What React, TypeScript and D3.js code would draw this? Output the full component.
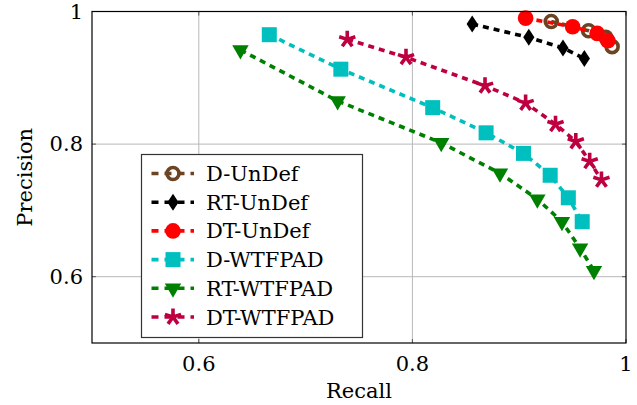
import * as d3 from 'd3'

// recall / precision pairs
const seriesNames = ['D-UnDef', 'RT-UnDef', 'DT-UnDef', 'D-WTFPAD', 'RT-WTFPAD', 'DT-WTFPAD']

const dUnDefRecall = [0.930, 0.965, 0.981, 0.987]
const dUnDefPrecision = [0.985, 0.971, 0.961, 0.947]

const rtUnDefRecall = [0.856, 0.909, 0.941, 0.961]
const rtUnDefPrecision = [0.981, 0.961, 0.945, 0.929]

const dtUnDefRecall = [0.906, 0.950, 0.973, 0.983]
const dtUnDefPrecision = [0.990, 0.977, 0.967, 0.956]

const dWtfRecall = [0.666, 0.733, 0.819, 0.869, 0.904, 0.929, 0.946, 0.959]
const dWtfPrecision = [0.965, 0.913, 0.855, 0.817, 0.786, 0.753, 0.719, 0.683]

const rtWtfRecall = [0.639, 0.730, 0.827, 0.882, 0.917, 0.940, 0.957, 0.970]
const rtWtfPrecision = [0.942, 0.865, 0.802, 0.756, 0.717, 0.683, 0.643, 0.609]

const dtWtfRecall = [0.739, 0.794, 0.868, 0.906, 0.934, 0.953, 0.966, 0.977]
const dtWtfPrecision = [0.958, 0.931, 0.888, 0.862, 0.830, 0.804, 0.774, 0.746]

const xTicks = [0.6, 0.8, 1]
const yTicks = [0.6, 0.8, 1]

type Marker = 'ocircle' | 'diamond' | 'circle' | 'square' | 'tri' | 'star'

const styles: { color: string; marker: Marker }[] = [
  { color: '#6b4423', marker: 'ocircle' },
  { color: '#000000', marker: 'diamond' },
  { color: '#ff0000', marker: 'circle' },
  { color: '#00bfbf', marker: 'square' },
  { color: '#008000', marker: 'tri' },
  { color: '#bf0040', marker: 'star' },
]

const recalls = [dUnDefRecall, rtUnDefRecall, dtUnDefRecall, dWtfRecall, rtWtfRecall, dtWtfRecall]
const precisions = [dUnDefPrecision, rtUnDefPrecision, dtUnDefPrecision, dWtfPrecision, rtWtfPrecision, dtWtfPrecision]

const series = seriesNames.map((name, i) => ({
  name,
  ...styles[i],
  points: recalls[i].map((r, j) => ({ r, p: precisions[i][j] })),
}))

const W = 637
const H = 405
const margin = { top: 11.5, right: 11, bottom: 62, left: 92 }
const FONT = "'DejaVu Serif', serif"
const FS = '21px'

function MarkerShape({ type, color, x, y }: { type: Marker; color: string; x: number; y: number }) {
  const t = `translate(${x},${y})`
  switch (type) {
    case 'ocircle':
      return <circle transform={t} r={6} fill="none" stroke={color} strokeWidth={3.6} />
    case 'circle':
      return <circle transform={t} r={7.8} fill={color} />
    case 'diamond':
      return <path transform={t} d="M0,-8.5L5.6,0L0,8.5L-5.6,0Z" fill={color} />
    case 'square':
      return <rect transform={t} x={-7.5} y={-7.5} width={15} height={15} fill={color} />
    case 'tri': {
      const r = 9.5
      return <path transform={t} d={`M0,${r}L${-r * 0.866},${-r / 2}L${r * 0.866},${-r / 2}Z`} fill={color} />
    }
    case 'star': {
      const r = 8.5
      const d = d3.range(5).map(k => {
        const a = -Math.PI / 2 + (k * 2 * Math.PI) / 5
        return `M0,0L${r * Math.cos(a)},${r * Math.sin(a)}`
      }).join('')
      return <path transform={t} d={d} stroke={color} strokeWidth={3.6} fill="none" />
    }
  }
}

function Chart() {
  const innerW = W - margin.left - margin.right
  const innerH = H - margin.top - margin.bottom

  const x = d3.scaleLinear().domain([0.5, 1]).range([margin.left, margin.left + innerW])
  const y = d3.scaleLinear().domain([0.5, 1]).range([margin.top + innerH, margin.top])

  const line = d3.line<{ r: number; p: number }>()
    .x(d => x(d.r))
    .y(d => y(d.p))

  const legend = { x: 141.5, y: 154.5, w: 221, h: 183, row: 28.7 }
  const fmt = d3.format('~g')

  return (
    <svg width={W} height={H} style={{ display: 'block', fontFamily: FONT }}>
      <rect width={W} height={H} fill="#fff" />

      {/* grid */}
      {xTicks.filter(v => v < 1).map(v => (
        <line key={'gx' + v} x1={x(v)} x2={x(v)} y1={y(0.5)} y2={y(1)} stroke="#b8b8b8" strokeWidth={1} />
      ))}
      {yTicks.filter(v => v < 1).map(v => (
        <line key={'gy' + v} x1={x(0.5)} x2={x(1)} y1={y(v)} y2={y(v)} stroke="#b8b8b8" strokeWidth={1} />
      ))}

      {/* ticks */}
      {xTicks.map(v => (
        <g key={'tx' + v} stroke="#555" strokeWidth={1}>
          <line x1={x(v)} x2={x(v)} y1={y(0.5)} y2={y(0.5) - 4} />
          <line x1={x(v)} x2={x(v)} y1={y(1)} y2={y(1) + 4} />
        </g>
      ))}
      {yTicks.map(v => (
        <g key={'ty' + v} stroke="#555" strokeWidth={1}>
          <line x1={x(0.5)} x2={x(0.5) + 4} y1={y(v)} y2={y(v)} />
          <line x1={x(1)} x2={x(1) - 4} y1={y(v)} y2={y(v)} />
        </g>
      ))}

      {/* series */}
      {series.map(s => (
        <g key={s.name}>
          <path d={line(s.points) || ''} fill="none" stroke={s.color} strokeWidth={3.6} strokeDasharray="6,5" />
          {s.points.map((d, j) => (
            <MarkerShape key={j} type={s.marker} color={s.color} x={x(d.r)} y={y(d.p)} />
          ))}
        </g>
      ))}

      {/* frame */}
      <rect x={x(0.5)} y={y(1)} width={x(1) - x(0.5)} height={y(0.5) - y(1)} fill="none" stroke="#000" strokeWidth={1.2} />

      {/* tick labels */}
      {xTicks.map(v => (
        <text key={'lx' + v} x={x(v)} y={y(0.5) + 28} textAnchor="middle" style={{ fontSize: FS }}>{fmt(v)}</text>
      ))}
      {yTicks.map(v => (
        <text key={'ly' + v} x={x(0.5) - 9} y={y(v) + 7} textAnchor="end" style={{ fontSize: FS }}>{fmt(v)}</text>
      ))}

      <text x={(x(0.5) + x(1)) / 2} y={398} textAnchor="middle" style={{ fontSize: FS }}>Recall</text>
      <text transform={`translate(32,${(y(0.5) + y(1)) / 2}) rotate(-90)`} textAnchor="middle" style={{ fontSize: FS }}>Precision</text>

      {/* legend */}
      <g>
        <rect x={legend.x} y={legend.y} width={legend.w} height={legend.h} fill="#fff" stroke="#333" strokeWidth={1.2} />
        {series.map((s, i) => {
          const cy = legend.y + 19 + i * legend.row
          return (
            <g key={'lg' + s.name}>
              <line x1={151.5} x2={194} y1={cy} y2={cy} stroke={s.color} strokeWidth={3.6} strokeDasharray="7,6" />
              <MarkerShape type={s.marker} color={s.color} x={173} y={cy} />
              <text x={206} y={cy + 7.5} style={{ fontSize: FS }}>{s.name}</text>
            </g>
          )
        })}
      </g>
    </svg>
  )
}

export default function App() {
  return (
    <>
      <style>{'body{margin:0}'}</style>
      <Chart />
    </>
  )
}
